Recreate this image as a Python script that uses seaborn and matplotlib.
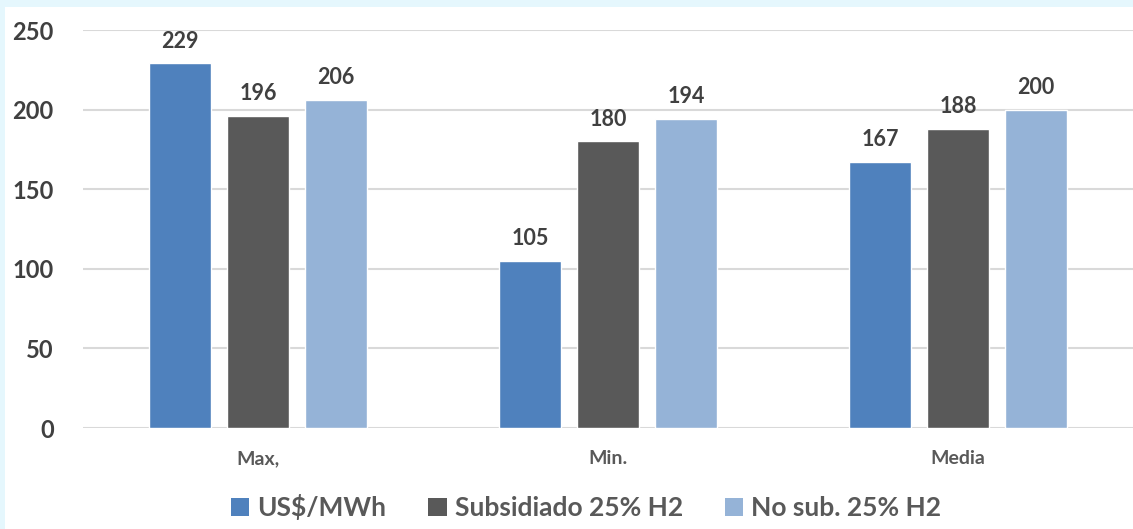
import matplotlib
matplotlib.use("Agg")
import matplotlib.pyplot as plt
from matplotlib.patches import Rectangle, Patch
import pandas as pd
import seaborn as sns

categories = ["Max,", "Min.", "Media"]
series_names = ["US$/MWh", "Subsidiado 25% H2", "No sub. 25% H2"]
usd_mwh = [229, 105, 167]
subsidiado = [196, 180, 188]
no_sub = [206, 194, 200]
y_ticks = [0, 50, 100, 150, 200, 250]

colors = ["#4F81BD", "#595959", "#95B3D7"]
text_color = "#404040"

rows = []
for name, values in zip(series_names, [usd_mwh, subsidiado, no_sub]):
    for cat, v in zip(categories, values):
        rows.append({"cat": cat, "serie": name, "valor": v})
df = pd.DataFrame(rows)

sns.set_theme(style="white")
plt.rcParams["font.family"] = ["Lato", "DejaVu Sans"]

fig = plt.figure(figsize=(11.33, 5.29), dpi=100)
fig.patch.set_facecolor("#E5F7FD")
# white chart area inside the light frame
fig.add_artist(Rectangle((5 / 1133, 0), 1 - 5 / 1133, 1 - 7 / 529,
                         transform=fig.transFigure, facecolor="white",
                         edgecolor="none", zorder=-10))

ax = fig.add_axes([83 / 1133, 101 / 529, 1 - 83 / 1133, 398 / 529])
ax.set_facecolor("none")
ax.set_zorder(1)

sns.barplot(data=df, x="cat", y="valor", hue="serie", order=categories,
            hue_order=series_names, palette=colors, width=0.669, gap=0.2,
            saturation=1, legend=False, ax=ax)

for cont in ax.containers:
    ax.bar_label(cont, padding=8.5, fontsize=15.5, fontweight="bold", color=text_color)

ax.set_ylim(0, 250)
ax.set_xlim(-0.5, 2.5)
ax.set_yticks(y_ticks)
ax.set_yticklabels([str(t) for t in y_ticks], fontsize=17, fontweight="bold", color=text_color)
ax.tick_params(axis="y", length=0, pad=21)
ax.tick_params(axis="x", length=0, pad=16)
for lbl in ax.get_xticklabels():
    lbl.set_fontsize(14)
    lbl.set_fontweight("bold")
    lbl.set_color("#595959")
ax.set_xlabel("")
ax.set_ylabel("")
ax.yaxis.grid(True, color="#D9D9D9", linewidth=1.5)
ax.set_axisbelow(True)
for s in ax.spines.values():
    s.set_visible(False)

handles = [Patch(facecolor=c, edgecolor="none") for c in colors]
leg = fig.legend(handles, series_names, loc="center", bbox_to_anchor=(586 / 1133, 22 / 529),
                 ncol=3, frameon=False, labelcolor="#595959",
                 handlelength=0.7, handleheight=0.7, handletextpad=0.3, columnspacing=1.6,
                 prop={"weight": "bold", "size": 19})
leg.set_zorder(2)

fig.savefig("out.png", dpi=100)
